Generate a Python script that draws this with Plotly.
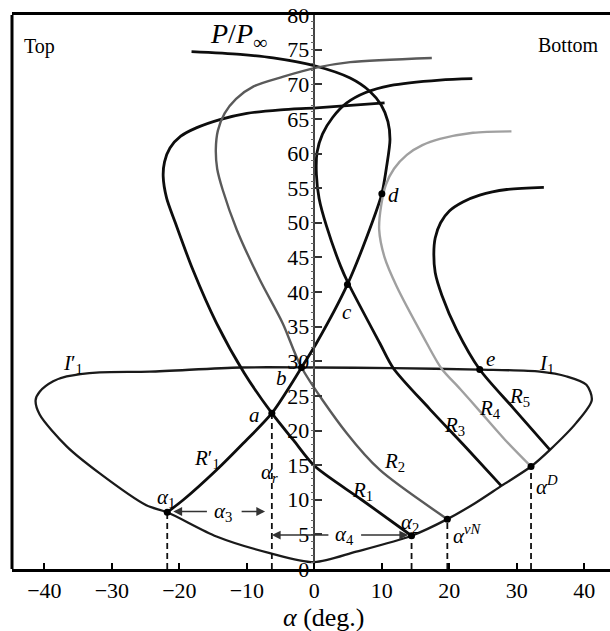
import plotly.graph_objects as go

FONT = "Liberation Serif"

# ---------------- data ----------------
# closed curve I1 / I1'
LOOP_X = [-21.8, -14.5, -6.6, 0.0, 6.2, 14.4, 19.7, 23.8, 27.7, 32.1, 34.9, 38.8, 41.1, 40.3, 37.4,
          33.4, 24.5, 11.7, 0.0, -11.0, -24.4, -31.8, -36.7, -38.7, -40.7, -41.3, -40.7, -36.7,
          -31.8, -24.9, -21.8]
LOOP_Y = [8.2, 4.7, 2.3, 1.0, 2.5, 4.8, 7.2, 9.5, 12.0, 14.8, 17.2, 21.1, 24.4, 26.6, 27.8,
          28.5, 28.8, 29.0, 29.1, 29.1, 28.5, 28.4, 27.8, 27.1, 25.6, 24.4, 22.3, 17.7,
          13.8, 9.2, 8.2]

R1P_X = [-21.8, -19.4, -14.5, -10.5, -6.3, -1.9, 0.3, 4.9, 8.7, 10.0, 10.7, 11.2, 10.9, 9.9,
         8.2, 5.3, 0.3, -6.1, -11.0, -18.2]
R1P_Y = [8.2, 10.0, 14.3, 18.2, 22.5, 29.1, 32.6, 41.1, 50.4, 54.2, 58.1, 62.0, 64.6, 67.0,
         69.0, 70.9, 72.6, 73.8, 74.3, 74.7]

R1_X = [14.4, 7.0, 0.0, -3.1, -6.3, -10.4, -14.5, -18.0, -20.6, -21.9, -22.4, -22.2, -21.4,
        -19.8, -17.5, -14.0, -10.0, -5.0, 0.3, 10.4]
R1_Y = [4.8, 10.0, 14.9, 18.6, 22.5, 28.3, 35.5, 43.2, 50.0, 53.6, 56.7, 58.8, 60.8,
        62.5, 63.7, 64.9, 65.8, 66.3, 66.6, 67.3]

R2_X = [19.7, 9.7, 4.8, -1.9, -4.7, -8.1, -11.5, -13.6, -14.4, -14.6, -14.3, -13.3, -11.6,
        -9.0, -4.6, 0.3, 5.3, 17.4]
R2_Y = [7.2, 14.3, 19.6, 29.1, 35.5, 41.8, 49.0, 54.8, 57.8, 60.6, 63.3, 65.8, 67.9,
        69.7, 71.1, 72.4, 73.2, 73.8]

R3_X = [27.7, 22.5, 17.0, 11.7, 9.7, 5.0, 3.9, 1.8, 0.7, 0.3, 0.4, 1.2, 2.7, 4.8, 7.6, 11.2,
        18.6, 23.4]
R3_Y = [12.0, 17.5, 23.2, 29.0, 32.6, 41.3, 43.7, 49.5, 53.5, 57.0, 60.2, 62.8, 65.2, 67.3,
        68.8, 69.8, 70.6, 70.8]

R4_X = [32.1, 28.3, 24.5, 21.6, 18.8, 16.1, 12.2, 10.4, 9.6, 9.9, 10.6, 11.8, 13.7, 16.0, 18.6,
        23.5, 29.2]
R4_Y = [14.8, 18.6, 22.8, 26.0, 29.0, 33.6, 40.8, 45.0, 49.0, 52.5, 55.5, 57.8, 59.8, 61.2,
        62.1, 63.0, 63.2]

R5_X = [34.9, 29.5, 24.5, 21.1, 18.9, 17.9, 17.7, 17.9, 18.7, 20.0, 22.0, 24.5, 28.5, 34.0]
R5_Y = [17.2, 23.2, 28.8, 34.5, 39.5, 42.8, 45.6, 47.8, 50.0, 51.7, 53.0, 54.0, 54.8, 55.1]

# marked points
PT_X = [-21.8, -6.3, -1.9, 4.9, 10.0, 24.5, 14.4, 19.7, 32.1]
PT_Y = [8.2, 22.5, 29.1, 41.1, 54.2, 28.8, 4.8, 7.2, 14.8]

# dashed drop lines (alpha_1, alpha_r, alpha_2, alpha^vN, alpha^D)
DROP_X = [-21.8, -6.3, 14.4, 19.7, 32.1]
DROP_Y = [8.2, 22.5, 4.8, 7.2, 14.8]

X_TICKS = [-40, -30, -20, -10, 0, 10, 20, 30, 40]
Y_TICKS = list(range(0, 81, 5))
XMIN, XMAX = -44.8, 43.8
YMIN, YMAX = 0, 80

# ---------------- figure ----------------
fig = go.Figure()

def curve(x, y, color, width):
    fig.add_trace(go.Scatter(x=x, y=y, mode="lines",
                             line=dict(color=color, width=width, shape="spline", smoothing=0.8),
                             hoverinfo="skip"))

curve(LOOP_X, LOOP_Y, "#1a1a1a", 2.3)
curve(R1P_X, R1P_Y, "#0d0d0d", 2.8)
curve(R1_X, R1_Y, "#0d0d0d", 2.8)
curve(R2_X, R2_Y, "#5a5a5a", 2.4)
curve(R3_X, R3_Y, "#0d0d0d", 2.8)
curve(R4_X, R4_Y, "#a0a0a0", 2.4)
curve(R5_X, R5_Y, "#0d0d0d", 2.8)

for dx, dy in zip(DROP_X, DROP_Y):
    fig.add_trace(go.Scatter(x=[dx, dx], y=[0, dy], mode="lines",
                             line=dict(color="#111", width=1.8, dash="6px,4px"),
                             hoverinfo="skip"))

fig.add_trace(go.Scatter(x=PT_X, y=PT_Y, mode="markers",
                         marker=dict(color="black", size=7), hoverinfo="skip"))

ann = []

def label(x, y, text, size=21, xanchor="center", xref="x", yref="y"):
    ann.append(dict(x=x, y=y, xref=xref, yref=yref, text=text, showarrow=False,
                    font=dict(family=FONT, size=size, color="black"),
                    xanchor=xanchor, yanchor="middle"))

A = "<i>α</i>"
label(-8.9, 22.2, "<i>a</i>")
label(-4.9, 27.6, "<i>b</i>")
label(4.9, 37.1, "<i>c</i>")
label(11.7, 54.0, "<i>d</i>")
label(26.1, 30.3, "<i>e</i>")
label(34.4, 29.6, "<i>I</i><sub>1</sub>")
label(-35.7, 29.6, "<i>I</i>′<sub>1</sub>")
label(-15.9, 15.9, "<i>R</i>′<sub>1</sub>")
label(7.1, 11.3, "<i>R</i><sub>1</sub>")
label(11.9, 15.5, "<i>R</i><sub>2</sub>")
label(20.8, 20.7, "<i>R</i><sub>3</sub>")
label(26.0, 23.1, "<i>R</i><sub>4</sub>")
label(30.4, 24.8, "<i>R</i><sub>5</sub>")
label(-22.0, 10.3, A + "<sub>1</sub>")
label(-6.7, 13.9, A + "<sub><i>r</i></sub>")
label(-13.6, 8.3, A + "<sub>3</sub>")
label(4.5, 4.9, A + "<sub>4</sub>")
label(14.1, 6.6, A + "<sub>2</sub>")
label(20.2, 5.0, A + "<sup><i>vN</i></sup>", xanchor="left")
label(32.6, 12.0, A + "<sup><i>D</i></sup>", xanchor="left")
label(-40.8, 75.5, "Top", size=20)
label(37.6, 75.6, "Bottom", size=20)
label(-11.2, 77.0, "<i>P</i>/<i>P</i><sub>∞</sub>", size=28)
label((324 - 12) / 598, -48 / 554, "<i>α</i> (deg.)", size=26, xref="paper", yref="paper")

# double-headed span arrows for alpha_3 and alpha_4
def arrow(x_tip, x_tail, y):
    ann.append(dict(x=x_tip, y=y, ax=x_tail, ay=y, xref="x", yref="y", axref="x", ayref="y",
                    text="", showarrow=True, arrowhead=2, arrowsize=1.1, arrowwidth=1.6,
                    arrowcolor="#333"))

arrow(DROP_X[0] + 0.9, -15.7, 8.3)
arrow(DROP_X[1] - 1.0, -11.0, 8.3)
arrow(DROP_X[1], 2.3, 4.9)
arrow(DROP_X[2] - 0.5, 6.7, 4.9)

fig.update_layout(
    width=610, height=631,
    margin=dict(l=12, r=0, t=15, b=62),
    paper_bgcolor="white", plot_bgcolor="white",
    showlegend=False, hovermode=False,
    font=dict(family=FONT, size=20, color="black"),
    annotations=ann,
    shapes=[dict(type="line", xref="paper", yref="paper", x0=0, x1=0, y0=0, y1=1,
                 line=dict(color="black", width=3))],
    xaxis=dict(range=[XMIN, XMAX], tickvals=X_TICKS, ticks="inside", ticklen=6, tickwidth=2,
               tickcolor="black", showline=True, linecolor="black", linewidth=3, mirror=True,
               showgrid=False, zeroline=False, automargin=False,
               tickfont=dict(family=FONT, size=22, color="black")),
    yaxis=dict(range=[YMIN, YMAX], tickvals=Y_TICKS, ticks="inside", ticklen=7, tickwidth=1.5,
               tickcolor="#333", showline=True, linecolor="#444", linewidth=1.5,
               anchor="free", position=(0 - XMIN) / (XMAX - XMIN),
               showgrid=False, zeroline=False, automargin=False,
               minor=dict(dtick=1, ticks="outside", ticklen=3, tickcolor="#666", tickwidth=1),
               tickfont=dict(family=FONT, size=22, color="black")),
)

fig.write_html("out.html")
